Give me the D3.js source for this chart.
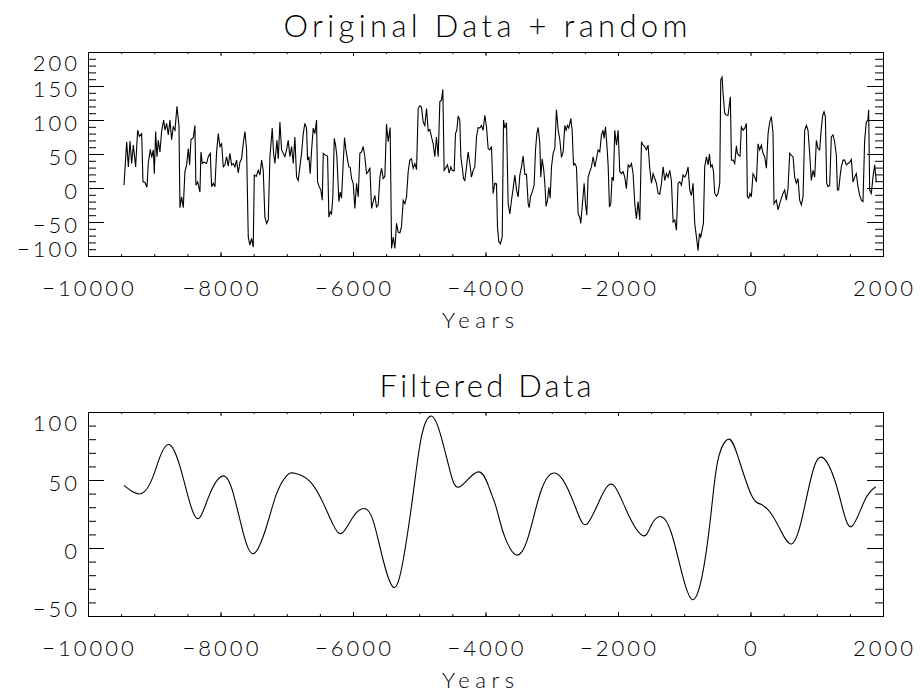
<!DOCTYPE html>
<html lang="en">
<head>
<meta charset="utf-8">
<title>Original Data + random / Filtered Data</title>
<script src="https://cdn.jsdelivr.net/npm/d3@7"></script>
<style>
  body { margin: 0; background: #fff; }
  text { font-family: Lato, "DejaVu Sans", sans-serif; font-weight: 300; fill: #000; }
</style>
</head>
<body>
<script>

// ---- data ----
var xTicks = [-10000, -8000, -6000, -4000, -2000, 0, 2000];
var topYTicks = [-100, -50, 0, 50, 100, 150, 200];
var bottomYTicks = [-50, 0, 50, 100];
var titles = ["Original Data + random", "Filtered Data"];
var xTitle = "Years";

// [year, value]
var rawData = [
  [-9457,4],[-9416,68],[-9391,31],[-9366,69],[-9341,36],[-9316,63],[-9281,31],[-9251,85],[-9225,76],[-9190,80],
  [-9170,9],[-9140,8],[-9110,1],[-9090,36],[-9060,57],[-9039,45],[-9014,56],[-8999,21],[-8979,83],[-8959,46],
  [-8939,70],[-8914,53],[-8889,83],[-8858,100],[-8838,85],[-8813,95],[-8788,78],[-8763,100],[-8738,71],[-8713,90],
  [-8687,85],[-8657,120],[-8627,92],[-8612,-29],[-8587,-13],[-8562,-29],[-8537,24],[-8511,34],[-8486,58],[-8466,34],
  [-8446,71],[-8411,74],[-8386,92],[-8371,4],[-8345,9],[-8310,-6],[-8295,53],[-8275,36],[-8245,38],[-8210,36],
  [-8185,46],[-8154,51],[-8134,2],[-8109,7],[-8084,2],[-8059,53],[-8034,80],[-8008,61],[-7983,65],[-7958,31],
  [-7933,34],[-7908,46],[-7883,32],[-7858,51],[-7832,34],[-7807,36],[-7782,31],[-7757,41],[-7732,22],[-7707,38],
  [-7682,43],[-7651,70],[-7631,83],[-7606,56],[-7581,-72],[-7556,-84],[-7531,-74],[-7506,-87],[-7490,19],[-7460,17],
  [-7430,26],[-7405,19],[-7380,41],[-7355,26],[-7330,-43],[-7304,-52],[-7279,-47],[-7254,46],[-7219,88],[-7199,51],
  [-7179,36],[-7148,70],[-7128,43],[-7103,97],[-7078,56],[-7053,51],[-7028,46],[-7003,56],[-6978,70],[-6952,46],
  [-6927,61],[-6902,36],[-6877,75],[-6852,16],[-6827,11],[-6802,31],[-6776,51],[-6751,80],
  [-6726,95],[-6701,88],[-6686,41],[-6666,46],[-6646,21],[-6625,56],[-6600,88],[-6575,80],[-6550,100],[-6535,9],
  [-6510,2],[-6485,-3],[-6464,-18],[-6449,51],[-6414,48],[-6384,47],[-6364,-43],[-6344,-35],[-6324,-38],[-6304,-13],
  [-6283,73],[-6263,63],[-6243,46],[-6213,-20],[-6193,-6],[-6173,-15],[-6148,36],[-6128,74],[-6107,56],[-6082,41],
  [-6062,31],[-6042,30],[-6022,14],[-5997,7],[-5972,-30],[-5946,7],[-5921,-13],[-5896,51],[-5871,53],[-5846,61],
  [-5821,46],[-5796,21],[-5771,24],[-5745,30],[-5720,-30],[-5695,-20],[-5670,-11],[-5645,-28],[-5620,-25],[-5594,16],
  [-5569,29],[-5544,14],[-5519,17],[-5494,94],[-5469,68],[-5439,89],[-5418,-89],[-5393,-72],[-5368,-89],[-5343,-52],
  [-5318,-65],[-5293,-66],[-5268,-57],[-5242,-18],[-5217,-23],[-5192,-13],[-5167,24],[-5142,41],[-5117,43],[-5092,29],
  [-5066,36],[-5041,27],[-5016,117],[-4991,121],[-4966,119],[-4941,97],[-4916,92],[-4890,117],[-4865,84],[-4840,86],
  [-4815,75],[-4790,65],[-4765,46],[-4740,75],[-4714,46],[-4689,127],[-4664,129],[-4644,145],[-4624,26],[-4604,29],
  [-4574,34],[-4548,22],[-4523,31],[-4503,26],[-4473,25],[-4453,80],[-4433,85],[-4413,106],[-4388,100],[-4372,46],
  [-4352,31],[-4332,14],[-4312,11],[-4287,31],[-4262,53],[-4237,36],[-4212,16],[-4186,26],[-4161,31],[-4136,75],
  [-4111,89],[-4086,88],[-4061,92],[-4036,85],[-4010,107],[-3985,90],[-3960,58],[-3935,56],[-3910,61],[-3885,-8],
  [-3859,7],[-3834,6],[-3819,-57],[-3799,-79],[-3774,-82],[-3748,-72],[-3728,100],[-3708,88],[-3683,96],[-3658,-23],
  [-3633,-38],[-3608,-18],[-3583,-1],[-3557,19],[-3532,-3],[-3507,-13],[-3482,19],[-3457,31],[-3432,47],[-3406,20],
  [-3381,20],[-3356,-23],[-3341,-29],[-3321,-13],[-3296,-6],[-3266,4],[-3245,56],[-3225,80],[-3205,89],[-3180,65],
  [-3165,16],[-3145,43],[-3120,26],[-3105,7],[-3085,-27],[-3064,-18],[-3044,1],[-3024,-15],[-3004,31],[-2979,51],
  [-2954,58],[-2929,115],[-2903,85],[-2878,71],[-2853,45],[-2828,53],[-2803,92],[-2783,85],[-2763,92],[-2743,88],
  [-2712,102],[-2692,85],[-2672,34],[-2652,36],[-2627,31],[-2602,-38],[-2577,-43],[-2562,-52],[-2541,-28],[-2511,7],
  [-2491,-23],[-2471,-40],[-2451,16],[-2426,24],[-2401,31],[-2375,46],[-2350,31],[-2325,43],[-2300,56],[-2275,53],
  [-2250,78],[-2225,85],[-2210,73],[-2189,90],[-2169,65],[-2149,34],[-2129,-28],[-2109,-23],[-2089,16],[-2069,11],
  [-2049,85],[-2023,63],[-1998,85],[-1973,24],[-1948,21],[-1923,24],[-1898,16],[-1873,-1],[-1847,34],[-1822,31],
  [-1797,36],[-1772,21],[-1747,-23],[-1722,-45],[-1697,-20],[-1671,-47],[-1646,68],[-1621,63],[-1596,61],[-1571,56],
  [-1546,63],[-1521,29],[-1495,7],[-1470,21],[-1445,14],[-1420,7],[-1395,-8],[-1370,-9],[-1344,7],[-1319,31],
  [-1294,11],[-1269,21],[-1244,16],[-1219,26],[-1194,11],[-1168,-50],[-1143,-47],[-1118,-62],[-1093,7],[-1068,9],
  [-1043,4],[-1018,19],
  [-992,16],[-967,21],[-942,31],[-917,-3],[-892,-11],[-867,7],[-842,-52],[-816,-72],[-791,-92],[-771,-67],
  [-751,-72],[-731,-62],[-711,-52],[-691,31],[-666,46],[-640,34],[-620,50],[-600,31],[-580,34],[-560,26],
  [-540,-8],[-515,-12],[-490,-8],[-464,7],[-449,159],[-429,163],[-414,139],[-389,110],[-364,107],[-339,107],
  [-304,134],[-288,41],[-263,41],[-238,36],[-213,62],[-198,51],[-178,48],[-158,47],[-138,90],[-112,85],
  [-87,88],[-62,95],[-47,-13],[-27,-15],[-7,-8],[13,-13],[38,21],[64,16],[89,9],[114,65],
  [139,56],[164,63],[189,51],[214,46],[240,29],[265,80],[290,97],[315,105],[340,80],[355,-23],
  [390,-18],[416,-32],[441,-23],[466,-15],[491,-8],[516,-3],[541,-18],[566,-1],[592,51],[617,48],
  [642,46],[667,16],[692,7],[717,14],[742,-18],[768,-25],[793,-13],[818,85],[843,92],[868,85],
  [893,51],[918,11],[944,26],[969,16],[994,70],[1019,58],[1044,56],[1069,88],[1090,107],[1110,112],
  [1130,105],[1150,7],[1170,2],[1195,4],[1220,75],[1245,78],[1270,68],[1296,48],[1311,-3],[1331,-3],
  [1351,16],[1371,31],[1396,41],[1421,41],[1446,34],[1472,36],[1497,38],[1522,42],[1547,9],[1572,16],
  [1597,21],[1622,2],[1648,-11],[1673,-18],[1698,-20],[1723,70],[1748,97],[1773,100],[1783,115],[1799,-3],
  [1824,-8],[1849,16],[1874,34],[1899,9]
];

var filteredData = [
  [-9457,46],[-9190,40],[-9014,53],[-8914,67],[-8773,76],[-8612,60],[-8461,33],[-8320,22],[-8159,40],[-7958,53],
  [-7807,40],[-7656,11],[-7495,-4],[-7304,16],[-7153,40],[-7003,53],[-6877,55],[-6651,49],[-6449,33],[-6299,17],
  [-6163,11],[-5997,23],[-5831,29],[-5695,20],[-5544,-9],[-5383,-29],[-5243,-9],[-5092,40],[-4966,82],[-4825,97],
  [-4689,85],[-4538,57],[-4388,45],[-4111,56],[-3935,43],[-3859,33],[-3784,20],[-3708,8],[-3542,-5],[-3356,8],
  [-3155,43],[-2939,55],[-2753,43],[-2602,25],[-2461,18],[-2250,38],[-2064,46],[-1848,25],[-1621,9],[-1495,17],
  [-1344,23],[-1194,11],[-1043,-17],[-877,-38],[-716,-17],[-590,28],[-490,65],[-333,80],[-188,67],[13,39],
  [164,32],[315,25],[466,12],[617,3],[768,20],[944,57],[1105,66],[1271,50],[1396,28],[1532,16],
  [1723,35],[1889,45]
];

// ---- layout ----
var width = 920, height = 693;
var left = 88, right = 883;
var panels = [
  { top: 52,  bottom: 256, yTicks: topYTicks,    data: rawData,      curve: d3.curveLinear,  title: titles[0], titleLen: 404 },
  { top: 412, bottom: 616, yTicks: bottomYTicks, data: filteredData, curve: d3.curveNatural, title: titles[1], titleLen: 212 }
];

var svg = d3.select("body").append("svg")
  .attr("width", width).attr("height", height);

var x = d3.scaleLinear().domain([xTicks[0], xTicks[xTicks.length - 1]]).range([left, right]);
var fmt = d3.format("d");
var xMinor = d3.range(xTicks[0], xTicks[xTicks.length - 1] + 1, 500);

panels.forEach(function (p) {
  var y = d3.scaleLinear()
    .domain([p.yTicks[0], p.yTicks[p.yTicks.length - 1]])
    .range([p.bottom, p.top]);
  var yMinor = d3.range(y.domain()[0], y.domain()[1] + 1, 10);
  var g = svg.append("g");

  // ticks point inward, IDL style
  function ticks(axis, vals, len, tx, ty) {
    g.append("g")
      .attr("transform", "translate(" + tx + "," + ty + ")")
      .call(axis.tickValues(vals).tickSize(-len).tickFormat(""))
      .call(function (s) { s.select(".domain").remove(); })
      .selectAll("line").attr("stroke", "#000");
  }
  ticks(d3.axisBottom(x), xMinor, 2, 0, p.bottom);
  ticks(d3.axisBottom(x), xTicks, 4, 0, p.bottom);
  ticks(d3.axisTop(x), xMinor, 2, 0, p.top);
  ticks(d3.axisTop(x), xTicks, 4, 0, p.top);
  ticks(d3.axisLeft(y), yMinor, 8, left, 0);
  ticks(d3.axisLeft(y), p.yTicks, 16, left, 0);
  ticks(d3.axisRight(y), yMinor, 8, right, 0);
  ticks(d3.axisRight(y), p.yTicks, 16, right, 0);

  g.append("rect")
    .attr("x", left + 0.5).attr("y", p.top + 0.5)
    .attr("width", right - left).attr("height", p.bottom - p.top)
    .attr("fill", "none").attr("stroke", "#000").attr("stroke-width", 1);

  // data line
  var line = d3.line()
    .x(function (d) { return x(d[0]); })
    .y(function (d) { return y(d[1]); })
    .curve(p.curve);
  g.append("path")
    .datum(p.data)
    .attr("d", line)
    .attr("fill", "none")
    .attr("stroke", "#000")
    .attr("stroke-width", 1.1);

  // tick labels
  g.selectAll("text.xl").data(xTicks).enter().append("text")
    .attr("class", "xl")
    .attr("x", function (d) { return x(d) + 1.5; })
    .attr("y", p.bottom + 40)
    .attr("text-anchor", "middle")
    .style("font-size", "22px")
    .style("letter-spacing", "3px")
    .text(fmt);

  g.selectAll("text.yl").data(p.yTicks).enter().append("text")
    .attr("class", "yl")
    .attr("x", 80)
    .attr("y", function (d) {
      return Math.max(p.top + 18.7, Math.min(p.bottom + 0.7, y(d) + 11.2));
    })
    .attr("text-anchor", "end")
    .style("font-size", "22px")
    .style("letter-spacing", "3px")
    .text(fmt);

  // titles
  g.append("text")
    .attr("x", (left + right) / 2 - p.titleLen / 2)
    .attr("y", p.top - 15)
    .attr("textLength", p.titleLen)
    .attr("lengthAdjust", "spacing")
    .style("font-size", "31px")
    .text(p.title);

  g.append("text")
    .attr("x", 442)
    .attr("y", p.bottom + 72)
    .attr("textLength", 72)
    .attr("lengthAdjust", "spacing")
    .style("font-size", "22px")
    .text(xTitle);
});

</script>
</body>
</html>
